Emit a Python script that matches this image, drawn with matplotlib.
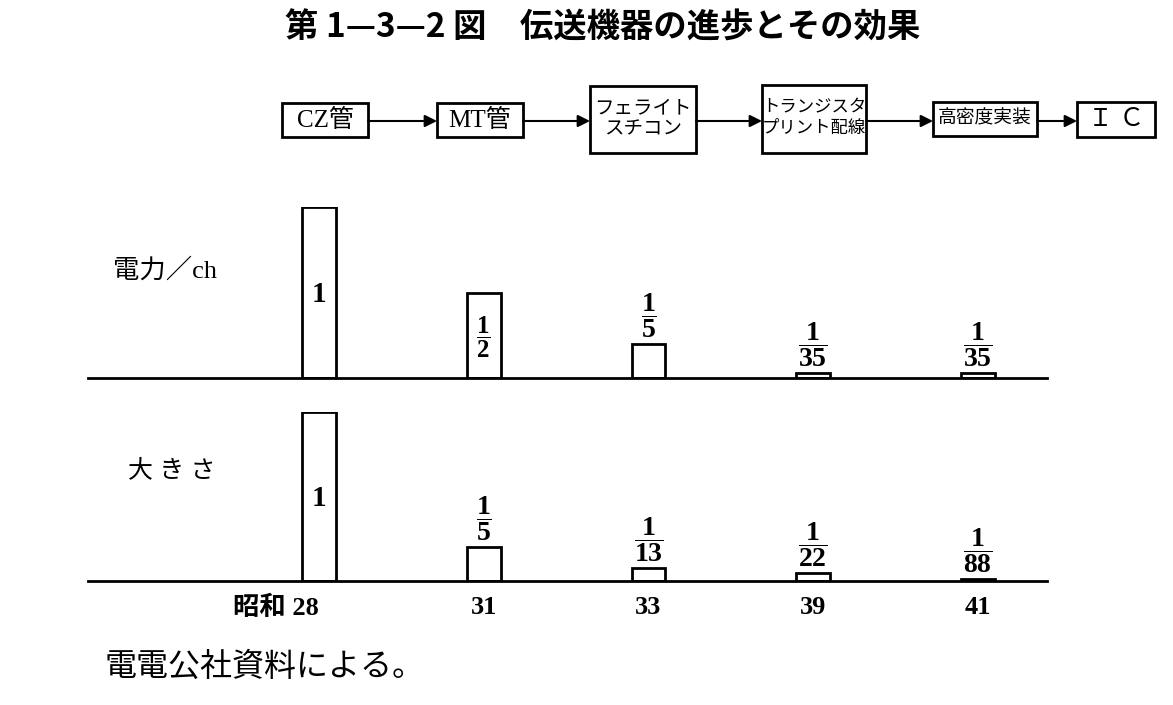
import matplotlib
matplotlib.use("Agg")
import matplotlib.pyplot as plt
from matplotlib.patches import Rectangle, FancyArrowPatch

plt.rcParams['font.family'] = ['Liberation Serif', 'Noto Sans CJK JP']
plt.rcParams['mathtext.fontset'] = 'custom'
plt.rcParams['mathtext.rm'] = 'Liberation Serif:bold'
plt.rcParams['mathtext.it'] = 'Liberation Serif:bold'
plt.rcParams['mathtext.bf'] = 'Liberation Serif:bold'

# ---- data ----
years = ['28', '31', '33', '39', '41']
year_prefix = '昭和'
power_den = [1, 2, 5, 35, 35]          # 電力／ch  = 1/den
size_den = [1, 5, 13, 22, 88]          # 大きさ    = 1/den
power_vals = [1.0 / d for d in power_den]
size_vals = [1.0 / d for d in size_den]
stages = ['CZ管', 'MT管', 'フェライト\nスチコン', 'トランジスタ\nプリント配線', '高密度実装', 'Ｉ Ｃ']
title = '第 1—3—2 図　伝送機器の進歩とその効果'
panel_labels = ['電力／ch', '大 き さ']
source = '電電公社資料による。'

W, H = 1173, 705
fig = plt.figure(figsize=(W / 100, H / 100), dpi=100)
fig.patch.set_facecolor('white')

def fy(p):
    return 1 - p / H

x_pos = list(range(len(years)))
xlim = (-1.402, 4.419)
left = 88 / W
width = (1047 - 88) / W
bar_w = 0.206

def frac_label(d):
    if d == 1:
        return '1'
    return r'$\dfrac{1}{%d}$' % d

def draw_panel(bottom_px, top_px, vals, dens, inside):
    ax = fig.add_axes([left, fy(bottom_px), width, (bottom_px - top_px) / H])
    ax.bar(x_pos, vals, width=bar_w, facecolor='white', edgecolor='black', linewidth=2)
    ax.set_xlim(*xlim)
    ax.set_ylim(0, 1)
    for s in ['top', 'right', 'left']:
        ax.spines[s].set_visible(False)
    ax.spines['bottom'].set_linewidth(2)
    ax.set_yticks([])
    ax.tick_params(axis='x', length=0)
    ax.set_xticks([])
    for i, (v, d) in enumerate(zip(vals, dens)):
        if inside[i]:
            ax.text(i, v / 2 - 0.01, frac_label(d), ha='center', va='center',
                    fontsize=21 if d == 1 else 18, fontweight='bold')
        else:
            ax.annotate(frac_label(d), (i, v), xytext=(0, 3), textcoords='offset points',
                        ha='center', va='bottom', fontsize=20, fontweight='bold',
                        annotation_clip=False)
    return ax

ax1 = draw_panel(378, 207, power_vals, power_den, [True, True, False, False, False])
ax2 = draw_panel(581, 412, size_vals, size_den, [True, False, False, False, False])

# year labels
for i, y in enumerate(years):
    if i == 0:
        ax2.annotate(year_prefix + ' ' + y, (i, 0), xytext=(0, -19), textcoords='offset points',
                     ha='right', va='center', fontsize=19, fontweight='bold', annotation_clip=False)
    else:
        ax2.annotate(y, (i, 0), xytext=(0, -19), textcoords='offset points',
                     ha='center', va='center', fontsize=19, fontweight='bold', annotation_clip=False)

# panel labels
fig.text(113 / W, fy(270), panel_labels[0], fontsize=19, ha='left', va='center')
fig.text(128 / W, fy(471), panel_labels[1], fontsize=18, ha='left', va='center')

# title
fig.text(603 / W, fy(28), title, fontsize=24, fontweight='bold', ha='center', va='center',
         family=['Noto Sans CJK JP'])

# flow diagram overlay
ov = fig.add_axes([0, 0, 1, 1])
ov.set_xlim(0, W)
ov.set_ylim(H, 0)
ov.axis('off')
boxes = [(282, 368, 103, 137), (437, 523, 103, 137), (590, 696, 86, 153),
         (762, 866, 85, 153), (933, 1037, 102, 136), (1077, 1155, 102, 137)]
fsz = [18, 18, 14, 12.5, 13.5, 18]
for (x0, x1, y0, y1), lab, fs in zip(boxes, stages, fsz):
    ov.add_patch(Rectangle((x0, y0), x1 - x0, y1 - y0, fill=False, edgecolor='black', linewidth=2))
    ov.text((x0 + x1) / 2, (y0 + y1) / 2, lab, ha='center', va='center', fontsize=fs,
            linespacing=1.35)
for (a, b) in zip(boxes[:-1], boxes[1:]):
    ov.add_patch(FancyArrowPatch((a[1], 121), (b[0], 121), arrowstyle='-|>', mutation_scale=18,
                                 color='black', linewidth=1.5, shrinkA=0, shrinkB=0))

# source
fig.text(105 / W, fy(667), source, fontsize=23, ha='left', va='center',
         family=['Noto Sans CJK JP'])

fig.savefig('out.png', dpi=100, facecolor='white')
